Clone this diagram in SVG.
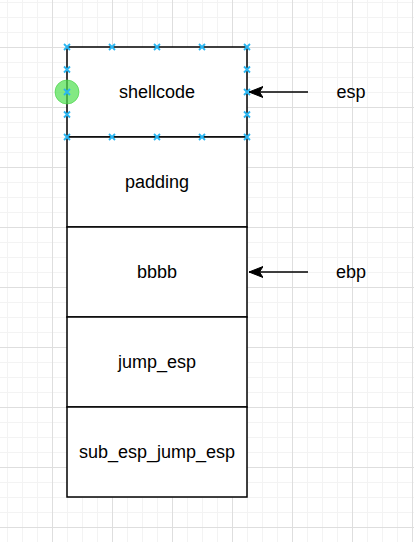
<svg xmlns="http://www.w3.org/2000/svg" width="414" height="542" viewBox="0 0 414 542">
  <defs>
    <pattern id="grid" patternUnits="userSpaceOnUse" x="52" y="47" width="60" height="60">
      <rect x="15" y="0" width="1" height="60" fill="#f3f3f3"/>
      <rect x="30" y="0" width="1" height="60" fill="#f3f3f3"/>
      <rect x="45" y="0" width="1" height="60" fill="#f3f3f3"/>
      <rect x="0" y="15" width="60" height="1" fill="#f3f3f3"/>
      <rect x="0" y="30" width="60" height="1" fill="#f3f3f3"/>
      <rect x="0" y="45" width="60" height="1" fill="#f3f3f3"/>
      <rect x="0" y="0" width="1" height="60" fill="#dedede"/>
      <rect x="0" y="0" width="60" height="1" fill="#dedede"/>
    </pattern>
    <marker id="arrow" markerUnits="userSpaceOnUse" markerWidth="16" markerHeight="14" refX="14" refY="7" orient="auto" viewBox="0 0 16 14">
      <path d="M14,7 L0,1.5 L3.5,7 L0,12.5 Z" fill="#000" stroke="#000" stroke-width="1" stroke-linejoin="miter"/>
    </marker>
    <g id="hx">
      <path d="M-3,-3 L3,3 M-3,3 L3,-3" stroke="#29b6f2" stroke-width="1.8" fill="none"/>
    </g>
  </defs>
  <style>
    .box { fill: #ffffff; stroke: #000000; stroke-width: 1.5; }
    .lbl { font-family: "Liberation Sans", Arial, Helvetica, sans-serif; font-size: 18px; fill: #000000; text-anchor: middle; dominant-baseline: central; }
    .conn { stroke: #000000; stroke-width: 1.5; fill: none; }
  </style>
  <rect x="0" y="0" width="414" height="542" fill="#ffffff"/>
  <rect x="0" y="0" width="414" height="542" fill="url(#grid)"/>

  <g id="node-shellcode">
    <rect class="box" x="67" y="47" width="180" height="90"/>
    <text class="lbl" x="157" y="92">shellcode</text>
  </g>
  <g id="node-padding">
    <rect class="box" x="67" y="137" width="180" height="90"/>
    <text class="lbl" x="157" y="182">padding</text>
  </g>
  <g id="node-bbbb">
    <rect class="box" x="67" y="227" width="180" height="90"/>
    <text class="lbl" x="157" y="272">bbbb</text>
  </g>
  <g id="node-jump_esp">
    <rect class="box" x="67" y="317" width="180" height="90"/>
    <text class="lbl" x="157" y="362">jump_esp</text>
  </g>
  <g id="node-sub_esp_jump_esp">
    <rect class="box" x="67" y="407" width="180" height="90"/>
    <text class="lbl" x="157" y="452">sub_esp_jump_esp</text>
  </g>

  <g id="label-esp">
    <text class="lbl" x="351" y="92">esp</text>
  </g>
  <g id="label-ebp">
    <text class="lbl" x="351" y="272">ebp</text>
  </g>

  <g id="connectors">
    <line class="conn" x1="308" y1="92" x2="249" y2="92" marker-end="url(#arrow)"/>
    <line class="conn" x1="308" y1="272" x2="249" y2="272" marker-end="url(#arrow)"/>
  </g>

  <g id="selection">
    <circle cx="67" cy="92" r="12" fill="#4fe04f" fill-opacity="0.7" stroke="#3fcf3f" stroke-opacity="0.6" stroke-width="1"/>
    <use href="#hx" x="67" y="47"/>
    <use href="#hx" x="112" y="47"/>
    <use href="#hx" x="157" y="47"/>
    <use href="#hx" x="202" y="47"/>
    <use href="#hx" x="247" y="47"/>
    <use href="#hx" x="67" y="137"/>
    <use href="#hx" x="112" y="137"/>
    <use href="#hx" x="157" y="137"/>
    <use href="#hx" x="202" y="137"/>
    <use href="#hx" x="247" y="137"/>
    <use href="#hx" x="67" y="69.5"/>
    <use href="#hx" x="67" y="92"/>
    <use href="#hx" x="67" y="114.5"/>
    <use href="#hx" x="247" y="69.5"/>
    <use href="#hx" x="247" y="92"/>
    <use href="#hx" x="247" y="114.5"/>
  </g>
</svg>
